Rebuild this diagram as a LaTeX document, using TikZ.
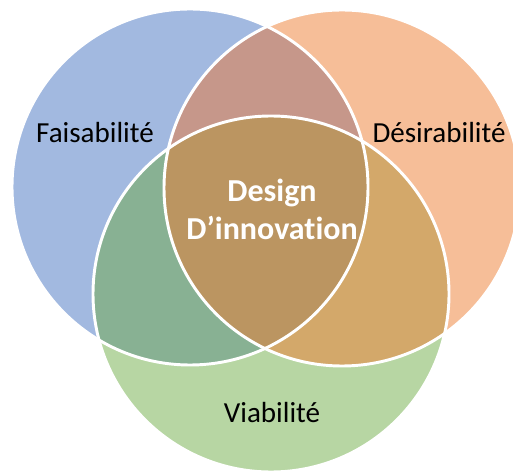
\documentclass[tikz,border=0pt]{standalone}
\usepackage{fontspec}
\setmainfont{Carlito}[Ligatures=NoCommon]
\usepackage{xcolor}
\definecolor{faisablue}{HTML}{A2B9E0}
\definecolor{desirorange}{HTML}{F6BE98}
\definecolor{viagreen}{HTML}{B7D6A3}
\definecolor{rosemix}{HTML}{C6978A}
\definecolor{greenmix}{HTML}{88B193}
\definecolor{tanmix}{HTML}{D3A86A}
\definecolor{coremix}{HTML}{BB9561}

\begin{document}
\begin{tikzpicture}[
  x=0.75pt, y=-0.75pt,
  % Styles
  ring/.style={draw=white, line width=2.2pt},
  label/.style={font=\fontsize{21.8}{26}\selectfont, text=black, inner sep=0pt},
  core/.style={font=\fontsize{24}{28.5}\selectfont\bfseries, text=white,
    align=center, inner sep=0pt},
]
\useasboundingbox (0,0) rectangle (513,473);

% === Centres ===
\coordinate (faisa) at (190,187);
\coordinate (desir) at (342,188);
\coordinate (via) at (271,294);

% === Plain discs ===
\fill[faisablue] (faisa) circle[radius=178];
\fill[desirorange] (desir) circle[radius=178];
\fill[viagreen] (via) circle[radius=178];

% === Overlaps ===
\begin{scope}
  \clip (faisa) circle[radius=178];
  \fill[rosemix] (desir) circle[radius=178];
  \fill[greenmix] (via) circle[radius=178];
\end{scope}
\begin{scope}
  \clip (desir) circle[radius=178];
  \fill[tanmix] (via) circle[radius=178];
\end{scope}
\begin{scope}
  \clip (faisa) circle[radius=178];
  \clip (desir) circle[radius=178];
  \fill[coremix] (via) circle[radius=178];
\end{scope}

% === Outlines ===
\draw[ring] (faisa) circle[radius=178];
\draw[ring] (desir) circle[radius=178];
\draw[ring] (via) circle[radius=178];

% === Labels ===
\node[label] (faisalabel) at (95,133) {Faisabilité};
\node[label] (desirlabel) at (439,133) {Désirabilité};
\node[label] (vialabel) at (272,413) {Viabilité};
\node[core] (design) at (272,209) {Design\\D’innovation};

\end{tikzpicture}
\end{document}
